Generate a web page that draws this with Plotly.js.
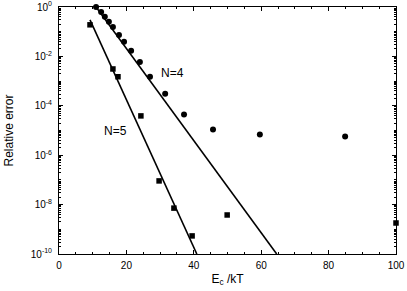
<!DOCTYPE html>
<html><head><meta charset="utf-8">
<script src="https://cdn.plot.ly/plotly-3.0.1.min.js"></script>
<style>html,body{margin:0;padding:0;background:#fff}#c{width:407px;height:291px}</style>
</head><body><div id="c"></div>
<script>
// N=4 data (circles)
const n4X = [11.0, 12.5, 13.6, 14.8, 16.0, 17.8, 19.3, 21.4, 24.0, 27.0, 31.5, 37.1, 45.7, 59.6, 84.9];
const n4Y = [1.0, 0.63, 0.40, 0.25, 0.155, 0.074, 0.039, 0.017, 0.006, 0.0015, 3.1e-4, 4.4e-5, 1.1e-5, 6.9e-6, 5.7e-6];
// N=5 data (squares)
const n5X = [9.2, 16.0, 17.5, 24.3, 29.7, 34.1, 39.5, 49.9, 100];
const n5Y = [0.19, 3.1e-3, 1.5e-3, 3.9e-5, 9.1e-8, 7.2e-9, 5.4e-10, 3.8e-9, 1.8e-9];
// fitted lines
const fit4X = [11.0, 64.6];
const fit4Y = [1.0, 1e-10];
const fit5X = [9.2, 40.9];
const fit5Y = [0.3, 1e-10];
// tick labels
const yTickVals = [1, 1e-2, 1e-4, 1e-6, 1e-8, 1e-10];
const yTickText = ['10<sup>0</sup>', '10<sup>-2</sup>', '10<sup>-4</sup>', '10<sup>-6</sup>', '10<sup>-8</sup>', '10<sup>-10</sup>'];
const xTickVals = [0, 20, 40, 60, 80, 100];

const minorY = [];
for (let e = -10; e < 0; e++) for (let k = 1; k <= 9; k++) minorY.push(k * Math.pow(10, e));

const traces = [
  {x: fit4X, y: fit4Y, mode: 'lines', line: {color: '#000', width: 1.6}, hoverinfo: 'skip'},
  {x: fit5X, y: fit5Y, mode: 'lines', line: {color: '#000', width: 1.6}, hoverinfo: 'skip'},
  {x: n4X, y: n4Y, mode: 'markers', cliponaxis: false, marker: {symbol: 'circle', size: 6, color: '#000'}},
  {x: n5X, y: n5Y, mode: 'markers', cliponaxis: false, marker: {symbol: 'square', size: 5.5, color: '#000'}}
];

const font = {family: 'Liberation Sans, Arial, sans-serif', color: '#000', size: 10};
const layout = {
  width: 407, height: 291,
  margin: {l: 59, r: 11, t: 7, b: 37},
  showlegend: false,
  paper_bgcolor: '#fff', plot_bgcolor: '#fff',
  font: font,
  xaxis: {
    range: [0, 100], tickmode: 'array', tickvals: xTickVals,
    ticks: 'inside', ticklen: 4, tickcolor: '#000', tickwidth: 1,
    showline: true, linecolor: '#000', linewidth: 1, mirror: 'ticks',
    showgrid: false, zeroline: false,
    minor: {ticks: 'inside', ticklen: 2, tickcolor: '#000', dtick: 5, showgrid: false},
    tickfont: {size: 10}, ticklabelstandoff: 2,
    title: {text: 'E<sub>c</sub> /kT', font: {size: 12}, standoff: 4}
  },
  yaxis: {
    type: 'log', range: [-10, 0], tickmode: 'array', tickvals: yTickVals, ticktext: yTickText,
    ticks: 'inside', ticklen: 4, tickcolor: '#000', tickwidth: 1,
    showline: true, linecolor: '#000', linewidth: 1, mirror: 'ticks',
    showgrid: false, zeroline: false,
    minor: {ticks: 'inside', ticklen: 2, tickcolor: '#000', tickmode: 'array', tickvals: minorY, showgrid: false},
    tickfont: {size: 10}, ticklabelstandoff: 4,
    title: {text: 'Relative error', font: {size: 12}, standoff: 14}
  },
  annotations: [
    {x: 33.6, y: -2.67, xref: 'x', yref: 'y', text: 'N=4', showarrow: false, font: {size: 12}},
    {x: 16.8, y: -5.02, xref: 'x', yref: 'y', text: 'N=5', showarrow: false, font: {size: 12}}
  ]
};
Plotly.newPlot('c', traces, layout, {displayModeBar: false, staticPlot: true});
</script></body></html>
